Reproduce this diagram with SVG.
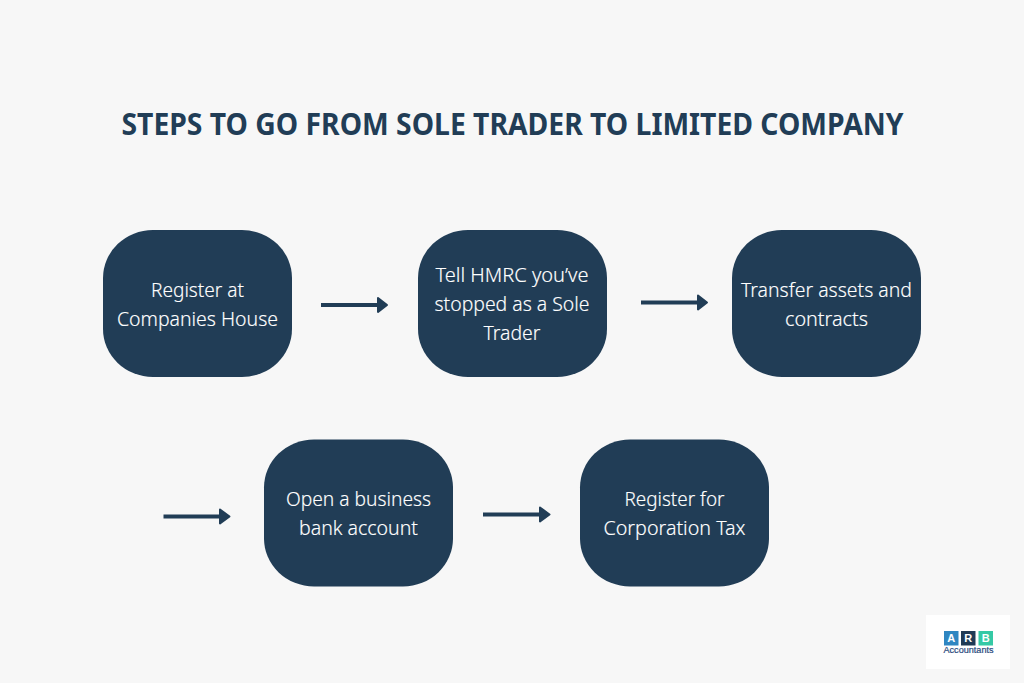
<svg xmlns="http://www.w3.org/2000/svg" width="1024" height="683" viewBox="0 0 1024 683">
<defs>
<style>
.box{fill:#213d56}
.t{font-family:"Noto Sans","Open Sans",sans-serif;font-size:20px;font-weight:300;fill:#ffffff;stroke:#ffffff;stroke-width:0.150;text-anchor:middle}
.c{stroke:#213d56;stroke-width:4;fill:none}
.h{fill:#213d56;stroke:#213d56;stroke-width:2;stroke-linejoin:round}
.title{font-family:"Noto Sans","Open Sans",sans-serif;font-size:30px;font-weight:700;fill:#213d56;text-anchor:middle}
.lg{font-family:"Liberation Sans",sans-serif;font-size:11px;font-weight:700;fill:#fff;text-anchor:middle}
</style>
</defs>
<rect width="1024" height="683" fill="#f7f7f7"/>
<text id="title" class="title" x="512.500" y="135" textLength="782" lengthAdjust="spacingAndGlyphs">STEPS TO GO FROM SOLE TRADER TO LIMITED COMPANY</text>
<g id="connectors">
<path class="c" d="M321 305H379"/><path class="h" d="M378 298L387 305L378 312Z"/>
<path class="c" d="M641 302.500H698"/><path class="h" d="M698 295.500L707 302.500L698 309.500Z"/>
<path class="c" d="M163.500 516.500H221"/><path class="h" d="M220 509.500L229.500 516.500L220 523.500Z"/>
<path class="c" d="M483 514.500H541"/><path class="h" d="M540 507.500L549.500 514.500L540 521.500Z"/>
</g>
<g id="node1"><rect class="box" x="103" y="230" width="189" height="147" rx="50" ry="48"/>
<text class="t" x="197.500" y="297" textLength="93" lengthAdjust="spacingAndGlyphs">Register at</text><text class="t" x="197.500" y="326" textLength="161" lengthAdjust="spacingAndGlyphs">Companies House</text></g>
<g id="node2"><rect class="box" x="418" y="230" width="189" height="147" rx="50" ry="48"/>
<text class="t" x="512" y="282" textLength="153" lengthAdjust="spacingAndGlyphs">Tell HMRC you’ve</text><text class="t" x="512" y="311" textLength="155" lengthAdjust="spacingAndGlyphs">stopped as a Sole</text><text class="t" x="512" y="340" textLength="57" lengthAdjust="spacingAndGlyphs">Trader</text></g>
<g id="node3"><rect class="box" x="732" y="230" width="189" height="147" rx="50" ry="48"/>
<text class="t" x="826.500" y="297" textLength="171" lengthAdjust="spacingAndGlyphs">Transfer assets and</text><text class="t" x="826.500" y="326" textLength="83" lengthAdjust="spacingAndGlyphs">contracts</text></g>
<g id="node4"><rect class="box" x="264" y="439.500" width="189" height="147" rx="50" ry="48"/>
<text class="t" x="358.500" y="506" textLength="145" lengthAdjust="spacingAndGlyphs">Open a business</text><text class="t" x="358.500" y="535" textLength="119" lengthAdjust="spacingAndGlyphs">bank account</text></g>
<g id="node5"><rect class="box" x="580" y="439.500" width="189" height="147" rx="50" ry="48"/>
<text class="t" x="674.500" y="506" textLength="100" lengthAdjust="spacingAndGlyphs">Register for</text><text class="t" x="674.500" y="535" textLength="142" lengthAdjust="spacingAndGlyphs">Corporation Tax</text></g>
<g id="logo">
<rect x="926" y="615" width="84" height="54" fill="#fff"/>
<rect x="944" y="631" width="14.500" height="14.500" fill="#2f86c1"/><text class="lg" x="951.200" y="642.300">A</text>
<rect x="961" y="631" width="14.500" height="14.500" fill="#1f3a55"/><text class="lg" x="968.200" y="642.300">R</text>
<rect x="978.500" y="631" width="14.500" height="14.500" fill="#35c9a5"/><text class="lg" x="985.700" y="642.300">B</text>
<text x="968.500" y="653" font-family="Liberation Sans, sans-serif" font-size="8.500" fill="#2b4a7d" stroke="#2b4a7d" stroke-width="0.200" text-anchor="middle" textLength="50" lengthAdjust="spacingAndGlyphs">Accountants</text>
</g>
</svg>
